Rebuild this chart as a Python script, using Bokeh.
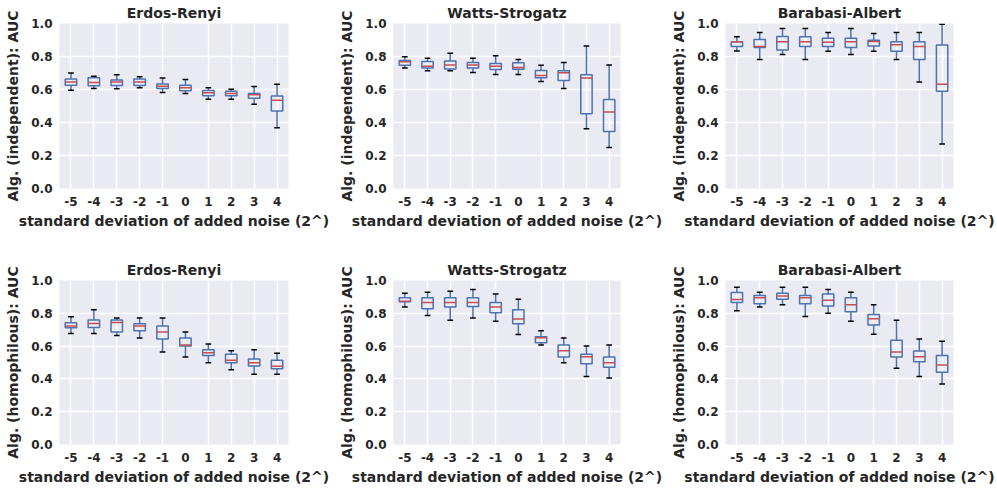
from bokeh.plotting import figure
from bokeh.layouts import column, row
from bokeh.models import ColumnDataSource, FactorRange, Range1d, FixedTicker, PrintfTickFormatter
from bokeh.transform import dodge
from bokeh.embed import file_html
from bokeh.resources import INLINE

cats = ["-5", "-4", "-3", "-2", "-1", "0", "1", "2", "3", "4"]
y_ticks = [0.0, 0.2, 0.4, 0.6, 0.8, 1.0]
titles = ["Erdos-Renyi", "Watts-Strogatz", "Barabasi-Albert"]
ylabels = ["Alg. (independent): AUC", "Alg. (homophilous): AUC"]
xlabel = "standard deviation of added noise (2^)"

# Row 1: independent
er_ind_lo = [0.596, 0.606, 0.604, 0.610, 0.582, 0.576, 0.541, 0.541, 0.511, 0.368]
er_ind_q1 = [0.626, 0.622, 0.624, 0.624, 0.606, 0.592, 0.562, 0.562, 0.547, 0.469]
er_ind_med = [0.646, 0.642, 0.646, 0.646, 0.620, 0.610, 0.580, 0.576, 0.568, 0.535]
er_ind_q3 = [0.663, 0.671, 0.657, 0.663, 0.634, 0.626, 0.594, 0.590, 0.576, 0.560]
er_ind_hi = [0.700, 0.681, 0.689, 0.677, 0.669, 0.661, 0.610, 0.602, 0.618, 0.632]

ws_ind_lo = [0.731, 0.713, 0.713, 0.703, 0.691, 0.691, 0.648, 0.606, 0.362, 0.248]
ws_ind_q1 = [0.747, 0.731, 0.725, 0.731, 0.721, 0.723, 0.671, 0.655, 0.453, 0.345]
ws_ind_med = [0.768, 0.741, 0.749, 0.749, 0.741, 0.733, 0.685, 0.701, 0.669, 0.463]
ws_ind_q3 = [0.776, 0.770, 0.772, 0.764, 0.758, 0.762, 0.715, 0.713, 0.689, 0.539]
ws_ind_hi = [0.798, 0.790, 0.820, 0.790, 0.804, 0.782, 0.747, 0.764, 0.863, 0.749]

ba_ind_lo = [0.834, 0.782, 0.812, 0.782, 0.832, 0.812, 0.832, 0.782, 0.646, 0.269]
ba_ind_q1 = [0.861, 0.855, 0.840, 0.861, 0.861, 0.855, 0.863, 0.832, 0.782, 0.590]
ba_ind_med = [0.889, 0.861, 0.889, 0.889, 0.887, 0.889, 0.891, 0.871, 0.861, 0.632]
ba_ind_q3 = [0.889, 0.903, 0.921, 0.919, 0.911, 0.911, 0.899, 0.889, 0.889, 0.869]
ba_ind_hi = [0.919, 0.945, 0.970, 0.970, 0.945, 0.970, 0.939, 0.945, 0.945, 0.996]

# Row 2: homophilous
er_hom_lo = [0.677, 0.677, 0.665, 0.649, 0.564, 0.533, 0.499, 0.456, 0.428, 0.428]
er_hom_q1 = [0.712, 0.714, 0.686, 0.694, 0.643, 0.600, 0.542, 0.499, 0.479, 0.462]
er_hom_med = [0.722, 0.738, 0.744, 0.722, 0.686, 0.606, 0.560, 0.513, 0.499, 0.477]
er_hom_q3 = [0.742, 0.759, 0.759, 0.736, 0.722, 0.649, 0.578, 0.550, 0.521, 0.513]
er_hom_hi = [0.779, 0.822, 0.771, 0.771, 0.771, 0.686, 0.613, 0.572, 0.578, 0.556]

ws_hom_lo = [0.838, 0.787, 0.757, 0.771, 0.751, 0.671, 0.606, 0.499, 0.414, 0.406]
ws_hom_q1 = [0.870, 0.828, 0.838, 0.842, 0.803, 0.736, 0.621, 0.533, 0.493, 0.471]
ws_hom_med = [0.874, 0.866, 0.866, 0.866, 0.838, 0.765, 0.651, 0.572, 0.535, 0.499]
ws_hom_q3 = [0.895, 0.895, 0.895, 0.895, 0.866, 0.822, 0.657, 0.606, 0.550, 0.533]
ws_hom_hi = [0.923, 0.929, 0.935, 0.945, 0.917, 0.886, 0.694, 0.649, 0.600, 0.606]

ba_hom_lo = [0.815, 0.838, 0.852, 0.781, 0.801, 0.751, 0.673, 0.465, 0.414, 0.369]
ba_hom_q1 = [0.866, 0.858, 0.886, 0.858, 0.844, 0.809, 0.728, 0.533, 0.505, 0.440]
ba_hom_med = [0.884, 0.895, 0.905, 0.895, 0.880, 0.852, 0.767, 0.564, 0.535, 0.485]
ba_hom_q3 = [0.927, 0.909, 0.923, 0.909, 0.917, 0.895, 0.793, 0.635, 0.570, 0.542]
ba_hom_hi = [0.959, 0.929, 0.959, 0.959, 0.945, 0.929, 0.852, 0.757, 0.643, 0.629]

BLUE = "#4C72B0"
RED = "#C44E52"
BG = "#EAEAF2"
TXT = "#262626"
FONT = "DejaVu Sans"


def panel(title, ylabel, lo, q1, med, q3, hi, w, h, bl, br, bt, bb):
    src = ColumnDataSource(dict(cat=cats, lo=lo, q1=q1, med=med, q3=q3, hi=hi))
    p = figure(x_range=FactorRange(*cats), y_range=Range1d(0, 1), width=w, height=h,
               output_backend="svg", toolbar_location=None,
               min_border_left=bl, min_border_right=br, min_border_top=bt, min_border_bottom=bb)
    p.background_fill_color = BG
    p.border_fill_color = "white"
    p.outline_line_color = None

    p.segment(x0="cat", y0="q3", x1="cat", y1="hi", source=src, line_color=BLUE, line_width=1.5)
    p.segment(x0="cat", y0="lo", x1="cat", y1="q1", source=src, line_color=BLUE, line_width=1.5)
    p.segment(x0=dodge("cat", -0.125, range=p.x_range), y0="hi",
              x1=dodge("cat", 0.125, range=p.x_range), y1="hi",
              source=src, line_color="black", line_width=1.5)
    p.segment(x0=dodge("cat", -0.125, range=p.x_range), y0="lo",
              x1=dodge("cat", 0.125, range=p.x_range), y1="lo",
              source=src, line_color="black", line_width=1.5)
    p.vbar(x="cat", bottom="q1", top="q3", width=0.5, source=src,
           fill_alpha=0, line_color=BLUE, line_width=1.5)
    p.segment(x0=dodge("cat", -0.25, range=p.x_range), y0="med",
              x1=dodge("cat", 0.25, range=p.x_range), y1="med",
              source=src, line_color=RED, line_width=1.5)

    p.title.text = title
    p.title.align = "center"
    p.title.text_font = FONT
    p.title.text_font_size = "14px"
    p.title.text_font_style = "bold"
    p.title.text_color = TXT
    p.title.standoff = 5

    p.yaxis.ticker = FixedTicker(ticks=y_ticks)
    p.ygrid.ticker = FixedTicker(ticks=y_ticks)
    p.yaxis.formatter = PrintfTickFormatter(format="%.1f")
    p.xaxis.axis_label = xlabel
    p.yaxis.axis_label = ylabel
    for ax in (p.xaxis, p.yaxis):
        ax.axis_line_color = None
        ax.major_tick_line_color = None
        ax.minor_tick_line_color = None
        ax.major_tick_out = 0
        ax.major_tick_in = 0
        ax.major_label_text_font = FONT
        ax.major_label_text_font_size = "12px"
        ax.major_label_text_font_style = "bold"
        ax.major_label_text_color = TXT
        ax.axis_label_text_font = FONT
        ax.axis_label_text_font_size = "14px"
        ax.axis_label_text_font_style = "bold"
        ax.axis_label_text_color = TXT
    p.xaxis.major_label_standoff = 8
    p.xaxis.axis_label_standoff = 4
    p.yaxis.major_label_standoff = 7
    p.yaxis.axis_label_standoff = 7
    p.grid.grid_line_color = "white"
    p.grid.grid_line_width = 1.5
    return p


widths = [332, 332, 333]
lefts = [59, 61, 61]
row1 = [
    panel(titles[0], ylabels[0], er_ind_lo, er_ind_q1, er_ind_med, er_ind_q3, er_ind_hi, widths[0], 250, lefts[0], 44, 23, 62),
    panel(titles[1], ylabels[0], ws_ind_lo, ws_ind_q1, ws_ind_med, ws_ind_q3, ws_ind_hi, widths[1], 250, lefts[1], 44, 23, 62),
    panel(titles[2], ylabels[0], ba_ind_lo, ba_ind_q1, ba_ind_med, ba_ind_q3, ba_ind_hi, widths[2], 250, lefts[2], 44, 23, 62),
]
row2 = [
    panel(titles[0], ylabels[1], er_hom_lo, er_hom_q1, er_hom_med, er_hom_q3, er_hom_hi, widths[0], 239, lefts[0], 44, 30, 45),
    panel(titles[1], ylabels[1], ws_hom_lo, ws_hom_q1, ws_hom_med, ws_hom_q3, ws_hom_hi, widths[1], 239, lefts[1], 44, 30, 45),
    panel(titles[2], ylabels[1], ba_hom_lo, ba_hom_q1, ba_hom_med, ba_hom_q3, ba_hom_hi, widths[2], 239, lefts[2], 44, 30, 45),
]
layout = column(row(*row1, spacing=0), row(*row2, spacing=0), spacing=0)

open("out.html", "w").write(file_html(layout, INLINE))
